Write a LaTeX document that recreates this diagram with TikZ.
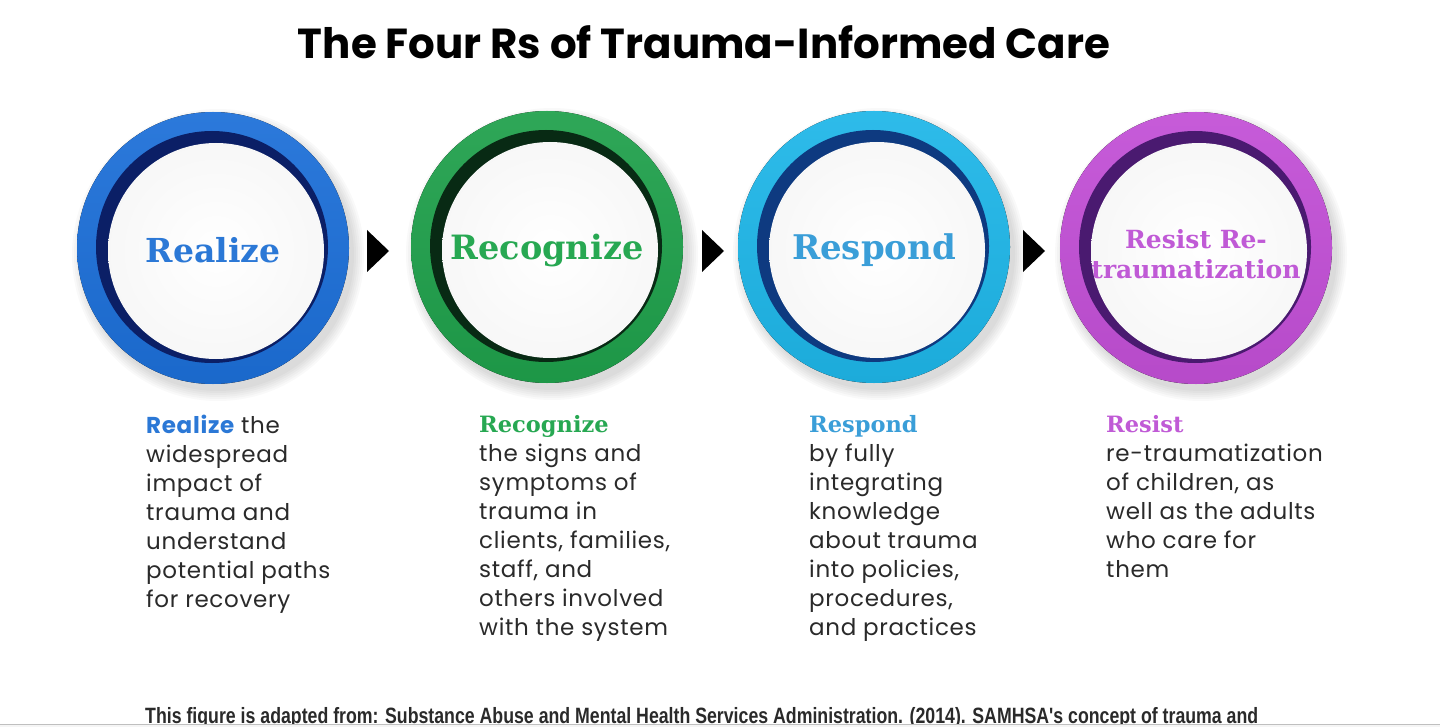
\documentclass[tikz,border=0pt]{standalone}
\usepackage{fontspec}
\usepackage{graphicx}
\setmainfont{Poppins}[LetterSpace=3]
\newfontfamily\slab{DejaVu Serif}
\newfontfamily\foot{Liberation Sans}
\newfontfamily\titlefont{Poppins}
\usetikzlibrary{calc}
\definecolor{bodytxt}{HTML}{2A2A2A}
\definecolor{ringA}{HTML}{1C6FD8}\definecolor{ringAd}{HTML}{0B1F66}\definecolor{txtA}{HTML}{2B78D6}
\definecolor{ringB}{HTML}{1FA04B}\definecolor{ringBd}{HTML}{082A14}\definecolor{txtB}{HTML}{27A852}
\definecolor{ringC}{HTML}{1EB6E8}\definecolor{ringCd}{HTML}{0E3A80}\definecolor{txtC}{HTML}{3A9ED8}
\definecolor{ringD}{HTML}{C24FD6}\definecolor{ringDd}{HTML}{4A1A70}\definecolor{txtD}{HTML}{C05AD6}
\tikzset{
  body/.style={anchor=north west, align=left, text=bodytxt, inner sep=0pt,
    font=\fontsize{23}{29}\selectfont},
  clabel/.style={align=center, inner sep=0pt},
}
\newcommand{\ring}[5]{% name, x, y, light colour, dark colour
  \foreach \k in {1,...,6}{\fill[black, opacity=0.025] ($(#2,#3)+(5,7)$) circle ({134+2*\k});}
  \fill[top color=#4!93!white, bottom color=#4!94!black] (#2,#3) circle (136);
  \coordinate (#1) at (#2,#3);
  \fill[#5] ($(#2,#3)+(-1,-1)$) circle (116);
  \shade[inner color=white, outer color=black!3] ($(#2,#3)+(3,3)$) circle (108);
}
\begin{document}
\begin{tikzpicture}[x=1pt,y=-1pt]
\useasboundingbox (0,0) rectangle (1440,727);
\fill[white] (0,0) rectangle (1440,727);
% title
\node[inner sep=0pt] (title) at (704,42) {\resizebox{812pt}{!}{\titlefont\bfseries The Four Rs of Trauma-Informed Care}};
% circles
\ring{c1}{213}{248}{ringA}{ringAd}
\ring{c2}{547}{247}{ringB}{ringBd}
\ring{c3}{874}{247}{ringC}{ringCd}
\ring{c4}{1196}{248}{ringD}{ringDd}
\node[clabel, text=txtA, font=\slab\bfseries\fontsize{33}{33}\selectfont] (l1) at ($(c1)+(0,2)$) {Realize};
\node[clabel, text=txtB, font=\slab\bfseries\fontsize{33.5}{33.5}\selectfont] (l2) at ($(c2)+(0,3)$) {Recognize};
\node[clabel, text=txtC, font=\slab\bfseries\fontsize{34}{34}\selectfont] (l3) at ($(c3)+(0,3)$) {Respond};
\node[clabel, text=txtD, font=\slab\bfseries\fontsize{25}{30}\selectfont] (l4) at ($(c4)+(0,6)$) {Resist Re-\\traumatization};
% arrows
\coordinate (a1) at (378,251);
\coordinate (a2) at (713,251);
\coordinate (a3) at (1034,251);
\foreach \a in {a1,a2,a3}{
  \fill[black] ($(\a)+(-11,-21)$) -- ($(\a)+(11,0)$) -- ($(\a)+(-11,21)$) -- cycle;
}
% body texts
\node[body] (t1) at (146,415) {{\bfseries\color{txtA}Realize} the\\widespread\\impact of\\trauma and\\understand\\potential paths\\for recovery};
\node[body] (t2) at (479,415) {{\slab\bfseries\fontsize{22.5}{29}\selectfont\color{txtB}Recognize}\\the signs and\\symptoms of\\trauma in\\clients, families,\\staff, and\\others involved\\with the system};
\node[body] (t3) at (809,415) {{\slab\bfseries\fontsize{22.5}{29}\selectfont\color{txtC}Respond}\\by fully\\integrating\\knowledge\\about trauma\\into policies,\\procedures,\\and practices};
\node[body] (t4) at (1106,415) {{\slab\bfseries\fontsize{22.5}{29}\selectfont\color{txtD}Resist}\\re-traumatization\\of children, as\\well as the adults\\who care for\\them};
% footer
\node[anchor=base west, inner sep=0pt, text=bodytxt] (foot) at (145,723) {\resizebox{1113pt}{!}{\foot\bfseries\fontsize{16}{16}\selectfont\scalebox{0.8}[1]{This figure is adapted from: Substance Abuse and Mental Health Services Administration. (2014). SAMHSA's concept of trauma and}}};
\fill[black!4] (0,724) rectangle (1440,727);
\draw[black!25, line width=1pt] (0,724) -- (1440,724);
\end{tikzpicture}
\end{document}
